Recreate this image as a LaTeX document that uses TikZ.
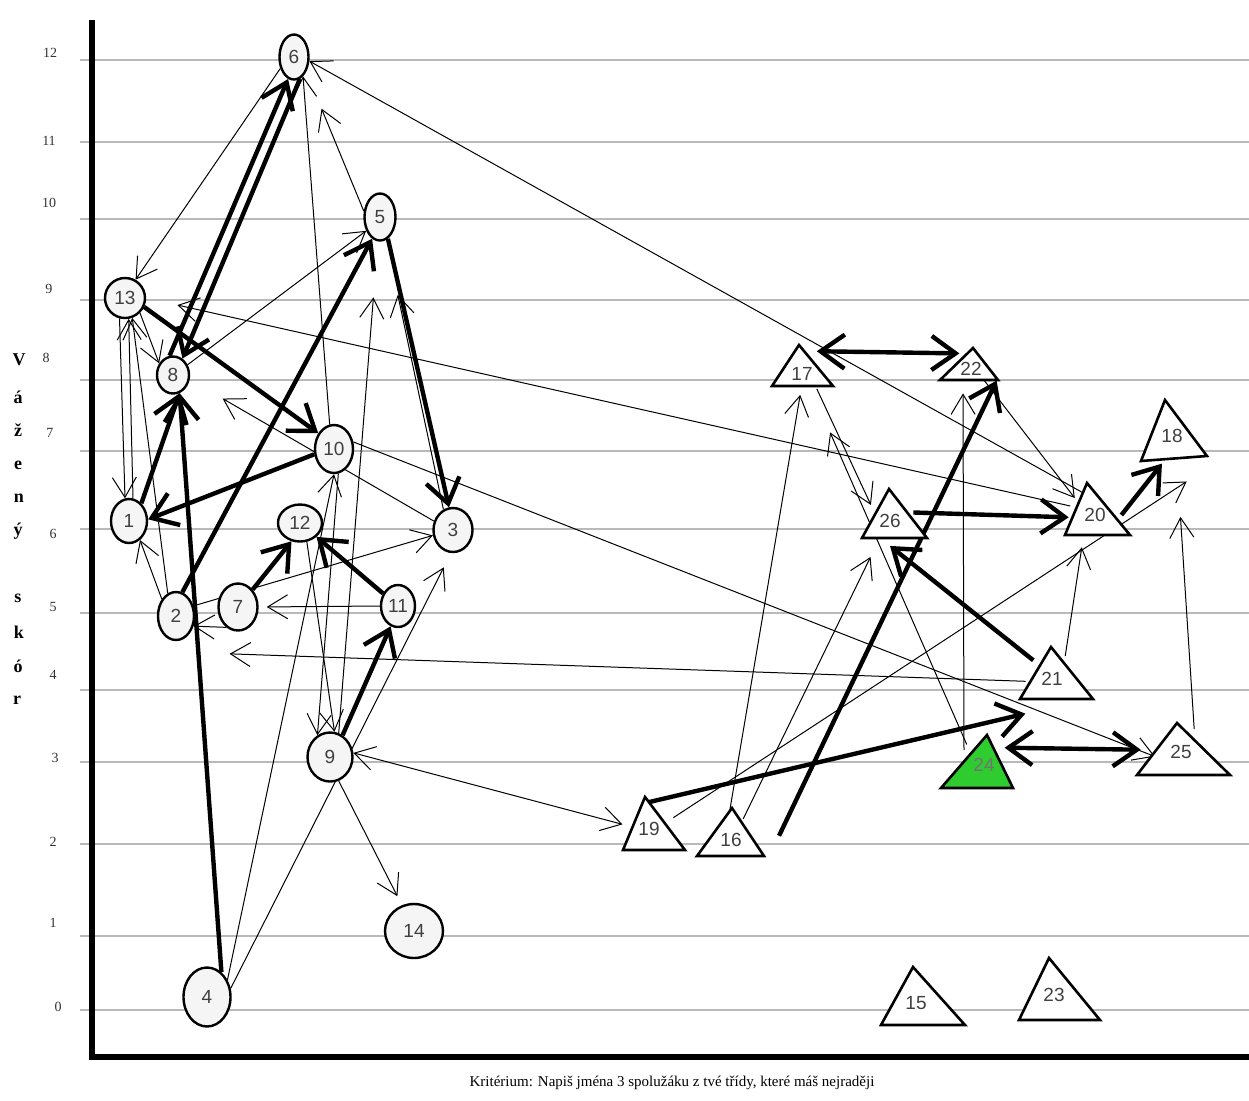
\documentclass[tikz,border=0pt]{standalone}
\usepackage{fontspec}
\setmainfont{Liberation Serif}
\newfontfamily\labfam{Liberation Sans}
\usetikzlibrary{arrows.meta,shapes.geometric}
\pgfdeclarelayer{bg}
\pgfdeclarelayer{fg}
\pgfsetlayers{bg,main,fg}
\definecolor{gridgray}{RGB}{185,185,185}
\definecolor{nodefill}{RGB}{245,245,245}
\definecolor{paintgreen}{RGB}{46,204,46}
\begin{document}
\begin{tikzpicture}[x=0.5pt,y=-0.5pt,
  gridline/.style={draw=gridgray, line width=0.8pt},
  axisline/.style={line width=2.6pt},
  stu/.style={ellipse, draw, line width=1.2pt, fill=nodefill, inner sep=0pt, font=\labfam\fontsize{9.5}{10}\selectfont, text=black!75},
  tri/.style={draw, line width=1.3pt, line join=miter, fill=white},
  tcon/.style={circle, inner sep=0pt, minimum size=#1, font=\labfam\fontsize{9.5}{10}\selectfont, text=black!75},
  thinarr/.style={line width=0.5pt, -{Straight Barb[length=10pt,width=12pt]}},
  thinboth/.style={line width=0.5pt, {Straight Barb[length=10pt,width=12pt]}-{Straight Barb[length=10pt,width=12pt]}},
  thickarr/.style={line width=2.2pt, -{Straight Barb[length=12pt,width=17pt]}},
  thickboth/.style={line width=2.2pt, {Straight Barb[length=12pt,width=17pt]}-{Straight Barb[length=12pt,width=17pt]}},
  ticklab/.style={font=\fontsize{7}{8}\selectfont, text=black!80},
  vlet/.style={font=\bfseries\fontsize{9}{10}\selectfont},
]
\useasboundingbox (0,0) rectangle (1249,1100);

% grid
\begin{pgfonlayer}{bg}
\foreach \yy in {60,142,219,300,380,451,529,613,690,762,844,936,1010}
  \draw[gridline] (80,\yy) -- (1249,\yy);
\end{pgfonlayer}

% axes
\draw[axisline, line join=miter] (92,20) -- (92,1057) -- (1249,1057);

% tick labels
\node[ticklab] (y12) at (50,53) {12};
\node[ticklab] (y11) at (49,141) {11};
\node[ticklab] (y10) at (49,203) {10};
\node[ticklab] (y9) at (49,289) {9};
\node[ticklab] (y8) at (46,358) {8};
\node[ticklab] (y7) at (50,433) {7};
\node[ticklab] (y6) at (53,534) {6};
\node[ticklab] (y5) at (53,607) {5};
\node[ticklab] (y4) at (53,675) {4};
\node[ticklab] (y3) at (55,758) {3};
\node[ticklab] (y2) at (53,842) {2};
\node[ticklab] (y1) at (53,923) {1};
\node[ticklab] (y0) at (58,1007) {0};

% vertical axis title
\node[vlet] (v1) at (19,360) {V};
\node[vlet] (v2) at (18,397) {á};
\node[vlet] (v3) at (18,430) {ž};
\node[vlet] (v4) at (18,465) {e};
\node[vlet] (v5) at (19,498) {n};
\node[vlet] (v6) at (18,531) {ý};
\node[vlet] (v7) at (18,598) {s};
\node[vlet] (v8) at (19,632) {k};
\node[vlet] (v9) at (18,666) {ó};
\node[vlet] (v10) at (17,700) {r};

% caption
\node[font=\fontsize{7.5}{9}\selectfont] (cap) at (672,1083) {Kritérium: Napiš jména 3 spolužáku z tvé třídy, které máš nejraději};

% nodes
\begin{pgfonlayer}{fg}
\node[stu, minimum width=18pt, minimum height=22pt] (n1) at (129,521) {1};
\node[stu, minimum width=18pt, minimum height=24pt] (n2) at (176,616) {2};
\node[stu, minimum width=19.5pt, minimum height=22pt] (n3) at (453,530) {3};
\node[stu, minimum width=23.5pt, minimum height=29.5pt] (n4) at (207,997) {4};
\node[stu, minimum width=15.5pt, minimum height=23.5pt] (n5) at (380,217) {5};
\node[stu, minimum width=14.5pt, minimum height=22.5pt] (n6) at (294,57) {6};
\node[stu, minimum width=19.5pt, minimum height=23.5pt] (n7) at (238,607) {7};
\node[stu, minimum width=16pt, minimum height=18.5pt] (n8) at (173,375) {8};
\node[stu, minimum width=22.5pt, minimum height=24.5pt] (n9) at (330,757) {9};
\node[stu, minimum width=19pt, minimum height=24pt] (n10) at (334,449) {10};
\node[stu, minimum width=17pt, minimum height=21pt] (n11) at (398,606) {11};
\node[stu, minimum width=22pt, minimum height=18.5pt] (n12) at (300,523) {12};
\node[stu, minimum width=20pt, minimum height=20pt] (n13) at (125,298) {13};
\node[stu, minimum width=29pt, minimum height=27pt] (n14) at (414,931) {14};

\draw[tri] (913,967) -- (881,1025) -- (965,1025) -- cycle;
\node[tcon=29pt] (t15) at (916,1003) {15};
\draw[tri] (732,808) -- (697,856) -- (764,856) -- cycle;
\node[tcon=24pt] (t16) at (731,840) {16};
\draw[tri] (799,345) -- (772,386) -- (833,386) -- cycle;
\node[tcon=20.5pt] (t17) at (802,374) {17};
\draw[tri] (1165,400) -- (1141,461) -- (1207,456) -- cycle;
\node[tcon=29pt] (t18) at (1172,436) {18};
\draw[tri] (645,797) -- (623,850) -- (685,850) -- cycle;
\node[tcon=26.5pt] (t19) at (649,829) {19};
\draw[tri] (1087,483) -- (1065,535) -- (1130,535) -- cycle;
\node[tcon=26pt] (t20) at (1095,515) {20};
\draw[tri] (1051,647) -- (1020,699) -- (1093,699) -- cycle;
\node[tcon=26pt] (t21) at (1052,679) {21};
\draw[tri] (973,348) -- (940,380) -- (998,380) -- cycle;
\node[tcon=16pt] (t22) at (971,369) {22};
\draw[tri] (1049,958) -- (1019,1020) -- (1100,1020) -- cycle;
\node[tcon=31pt] (t23) at (1054,995) {23};
\draw[tri, fill=paintgreen] (987,735) -- (941,788) -- (1013,788) -- cycle;
\node[tcon=26.5pt, text=black!55] (t24) at (984,765) {24};
\draw[tri] (1177,723) -- (1137,775) -- (1230,775) -- cycle;
\node[tcon=26pt] (t25) at (1181,752) {25};
\draw[tri] (889,489) -- (862,538) -- (927,538) -- cycle;
\node[tcon=24.5pt] (t26) at (890,521) {26};
\end{pgfonlayer}

% thick connectors
\draw[thickarr] (n8.100) -- (n6.255);
\draw[thickarr] (n6.285) -- (n8.60);
\draw[thickarr] (n1.55) -- (n8.290);
\draw[thickarr] (n4.60) -- (n8.290);
\draw[thickarr] (n2.75) -- (n5.250);
\draw[thickarr] (n10.195) -- (n1.5);
\draw[thickarr] (n13.335) -- (n10.135);
\draw[thickarr] (n5.290) -- (n3.100);
\draw[thickarr] (n7.50) -- (n12.245);
\draw[thickarr] (n11.140) -- (n12.320);
\draw[thickarr] (n9.60) -- (n11.250);
\draw[thickboth] ([yshift=4pt]t17.45) -- ([yshift=2pt]t22.135);
\draw[thickarr] (t26.20) -- (t20.185);
\draw[thickarr] (t21.135) -- (t26.south);
\draw[thickarr] ([xshift=12pt]t16.10) -- ([xshift=7pt]t22.315);
\draw[thickarr] (t19.north) -- ([xshift=-4pt,yshift=-8pt]t21.225);
\draw[thickboth] (t24.40) -- ([xshift=-7pt]t25.175);
\draw[thickarr] (t20.0) -- (t18.250);

% thin connectors
\draw[thinarr] (n6.220) -- (n13.60);
\draw[thinarr] (t20.120) -- (n6.345);
\draw[thinarr] (n10.100) -- (n6.295);
\draw[thinarr, shorten >=20pt] (n5.160) -- (n6.310);
\draw[thinarr] (n8.35) -- (n5.225);
\draw[thinarr, shorten >=16pt] (t20.160) -- (n13.east);
\draw[thinarr] (n13.255) -- (n1.100);
\draw[thinarr] (n1.80) -- (n13.280);
\draw[thinarr] (n13.315) -- (n8.140);
\draw[thinarr] (n2.110) -- (n13.290);
\draw[thinarr] (n2.130) -- (n1.300);
\draw[thinarr, shorten >=19pt] (n3.155) -- (n8.345);
\draw[thinarr] (n2.30) -- (n3.195);
\draw[thinarr, shorten >=4pt] (n11.180) -- (n7.0);
\draw[thinarr] (t21.185) -- ([xshift=20pt,yshift=-10pt]n2.south east);
\draw[thinarr] (n7.240) -- (n2.330);
\draw[thinarr] (n12.290) -- (n9.80);
\draw[thinarr] (n10.280) -- (n9.120);
\draw[thinarr] (n4.40) -- (n10.270);
\draw[thinarr, shorten >=8pt] (n4.20) -- (n3.265);
\draw[thinarr, shorten >=5pt] (n9.290) -- (n14.115);
\draw[thinboth] (t19.170) -- (n9.10);
\draw[thinarr, shorten >=28pt] (n9.70) -- (n5.265);
\draw[thinarr, shorten >=28pt] (n3.115) -- (n5.285);
\draw[thinarr] (n10.20) -- (t25.190);
\draw[thinarr] (t16.95) -- (t17.265);
\draw[thinarr, shorten >=22pt] (t24.130) -- (t17.300);
\draw[thinarr] (t17.315) -- (t26.140);
\draw[thinarr, shorten >=8pt] (t16.60) -- (t26.240);
\draw[thinarr] (t19.25) -- ([yshift=-10pt]t18.300);
\draw[thinarr, shorten >=3pt] (t21.60) -- ([xshift=-5pt]t20.265);
\draw[thinarr, shorten >=26pt] (t25.60) -- (t18.280);
\draw[thinarr, shorten >=4pt] ([xshift=-10pt,yshift=-6pt]t24.north) -- ([xshift=-4pt]t22.south);
\draw[thinarr] (t22.320) -- (t20.140);
\end{tikzpicture}
\end{document}
